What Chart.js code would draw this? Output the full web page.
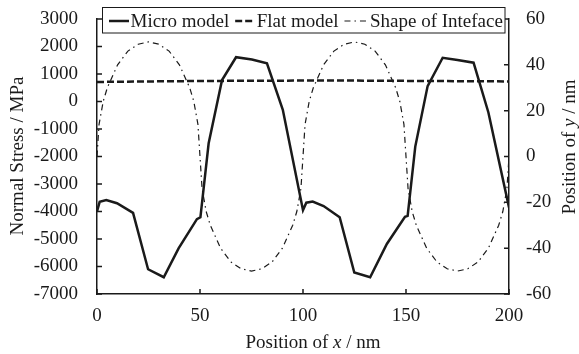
<!DOCTYPE html>
<html>
<head>
<meta charset="utf-8">
<script src="https://cdn.jsdelivr.net/npm/chart.js@4.4.1/dist/chart.umd.min.js"></script>
<style>
  html, body { margin: 0; padding: 0; background: #fff; }
  #wrap { width: 579px; height: 354px; }
</style>
</head>
<body>
<div id="wrap"><canvas id="myChart" width="579" height="354"></canvas></div>
<script>
// values
const microX = [0, 1.3, 4.5, 9.7, 17.5, 24.8, 32.4, 39.6, 48.5, 50.2, 54.2, 60.7, 67.5, 75.2, 82.5, 90.2,
  100, 101.6, 104.7, 110, 117.8, 124.9, 132.6, 140.7, 149.5, 150.8, 154.5, 160.5, 167.8, 175, 182.8, 190, 200];
const microStress = [-4000, -3650, -3580, -3700, -4050, -6100, -6390, -5340, -4280, -4210, -1520, 780, 1610, 1530, 1390, -300,
  -3950, -3680, -3640, -3800, -4210, -6220, -6390, -5180, -4190, -4160, -1640, 560, 1590, 1510, 1410, -400, -3850];

const flatX = [0, 25, 50, 75, 100, 125, 150, 175, 200];
const flatStress = [710, 730, 745, 755, 760, 760, 750, 740, 730];

const shapeX = [0, 1, 3, 5, 10, 15, 20, 25, 30, 35, 40, 45, 47, 49, 50, 51, 53, 55, 60, 65, 70, 75, 80, 85, 90, 95, 97, 99,
  100, 101, 103, 105, 110, 115, 120, 125, 130, 135, 140, 145, 147, 149, 150, 151, 153, 155, 160, 165, 170, 175, 180, 185, 190, 195, 197, 199, 200];
const shapeY = [0, 14, 24, 30, 40, 46, 49, 50, 49, 46, 40, 30, 24, 14, 0, -14, -24, -30, -40, -46, -49, -50, -49, -46, -40, -30, -24, -14,
  0, 14, 24, 30, 40, 46, 49, 50, 49, 46, 40, 30, 24, 14, 0, -14, -24, -30, -40, -46, -49, -50, -49, -46, -40, -30, -24, -14, 0];

const seriesNames = ['Micro model', 'Flat model', 'Shape of Inteface'];
const xTicks = [0, 50, 100, 150, 200];

const FONT = 'Liberation Serif, Times New Roman, serif';
const INK = '#1a1a1a';

const pairs = (xs, ys) => xs.map((x, i) => ({ x: x, y: ys[i] }));

// legend box, inner tick marks and axis titles (with italic x / y)
const decorations = {
  id: 'decorations',
  afterDraw(chart) {
    const ctx = chart.ctx;
    const area = chart.chartArea;
    ctx.save();
    ctx.strokeStyle = INK;
    ctx.lineWidth = 1.5;
    ctx.setLineDash([]);

    // inner ticks
    const tl = 5;
    const xs = chart.scales.x, yl = chart.scales.y, yr = chart.scales.y1;
    ctx.beginPath();
    xs.ticks.forEach(t => {
      const px = xs.getPixelForValue(t.value);
      ctx.moveTo(px, area.bottom); ctx.lineTo(px, area.bottom - tl);
    });
    yl.ticks.forEach(t => {
      const py = yl.getPixelForValue(t.value);
      ctx.moveTo(area.left, py); ctx.lineTo(area.left + tl, py);
    });
    yr.ticks.forEach(t => {
      const py = yr.getPixelForValue(t.value);
      ctx.moveTo(area.right, py); ctx.lineTo(area.right - tl, py);
    });
    ctx.stroke();

    // legend
    ctx.fillStyle = '#fff';
    ctx.lineWidth = 1;
    ctx.fillRect(102, 7.5, 403, 25.5);
    ctx.strokeRect(102.5, 7.5, 402.5, 25.5);
    ctx.font = '19px ' + FONT;
    ctx.textBaseline = 'middle';
    ctx.textAlign = 'left';
    const ly = 21;
    let lx = 109;
    const sampleW = [20, 20, 24];
    chart.data.datasets.forEach((ds, i) => {
      ctx.beginPath();
      ctx.strokeStyle = ds.borderColor;
      ctx.lineWidth = ds.borderWidth;
      ctx.setLineDash(ds.borderDash || []);
      ctx.moveTo(lx, ly); ctx.lineTo(lx + sampleW[i], ly);
      ctx.stroke();
      lx += sampleW[i] + 1.5;
      ctx.fillStyle = INK;
      ctx.fillText(ds.label, lx, ly + 1);
      lx += ctx.measureText(ds.label).width + 6;
    });
    ctx.setLineDash([]);

    // axis titles
    const drawParts = (parts, cx, cy, rot) => {
      ctx.save();
      ctx.translate(cx, cy);
      ctx.rotate(rot);
      let w = 0;
      parts.forEach(p => { ctx.font = (p[1] ? 'italic ' : '') + '19px ' + FONT; w += ctx.measureText(p[0]).width; });
      let x = -w / 2;
      parts.forEach(p => {
        ctx.font = (p[1] ? 'italic ' : '') + '19px ' + FONT;
        ctx.fillText(p[0], x, 0);
        x += ctx.measureText(p[0]).width;
      });
      ctx.restore();
    };
    ctx.fillStyle = INK;
    drawParts([['Position of ', false], ['x', true], [' / nm', false]], 313, 343, 0);
    drawParts([['Normal Stress / MPa', false]], 18, 156, -Math.PI / 2);
    drawParts([['Position of ', false], ['y', true], [' / nm', false]], 570, 147, -Math.PI / 2);
    ctx.restore();
  }
};

const tickFont = { family: FONT, size: 19 };

const fitV = w => s => { s.width = w; s.paddingTop = 0; s.paddingBottom = 0; };

new Chart(document.getElementById('myChart'), {
  type: 'line',
  data: {
    datasets: [
      {
        label: seriesNames[0],
        data: pairs(microX, microStress),
        yAxisID: 'y',
        borderColor: INK,
        borderWidth: 2.5,
        pointRadius: 0,
        tension: 0,
        fill: false
      },
      {
        label: seriesNames[1],
        data: pairs(flatX, flatStress),
        yAxisID: 'y',
        borderColor: INK,
        borderWidth: 2.5,
        borderDash: [7, 3],
        pointRadius: 0,
        tension: 0,
        fill: false
      },
      {
        label: seriesNames[2],
        data: pairs(shapeX, shapeY),
        yAxisID: 'y1',
        borderColor: INK,
        borderWidth: 1.2,
        borderDash: [6, 4, 1.5, 4],
        pointRadius: 0,
        tension: 0,
        fill: false
      }
    ]
  },
  options: {
    responsive: false,
    animation: false,
    layout: { padding: { top: 19, left: 0, right: 0, bottom: 0 } },
    plugins: { legend: { display: false }, tooltip: { enabled: false } },
    scales: {
      x: {
        type: 'linear',
        min: 0, max: 200,
        afterBuildTicks: s => { s.ticks = xTicks.map(v => ({ value: v })); },
        afterFit: s => { s.height = 60; s.paddingLeft = 0; s.paddingRight = 0; },
        grid: { display: false, drawTicks: false },
        border: { display: true, color: INK, width: 1.5 },
        ticks: { color: INK, font: tickFont, padding: 11, maxRotation: 0, callback: v => String(v) }
      },
      y: {
        position: 'left',
        min: -7000, max: 3000,
        afterFit: fitV(97),
        grid: { display: false, drawTicks: false },
        border: { display: true, color: INK, width: 1.5 },
        ticks: { color: INK, font: tickFont, padding: 19, stepSize: 1000, callback: v => String(v) }
      },
      y1: {
        position: 'right',
        min: -60, max: 60,
        afterFit: fitV(70),
        grid: { display: false, drawTicks: false },
        border: { display: true, color: INK, width: 1.5 },
        ticks: { color: INK, font: tickFont, padding: 17, stepSize: 20, callback: v => String(v) }
      }
    }
  },
  plugins: [decorations]
});
</script>
</body>
</html>
